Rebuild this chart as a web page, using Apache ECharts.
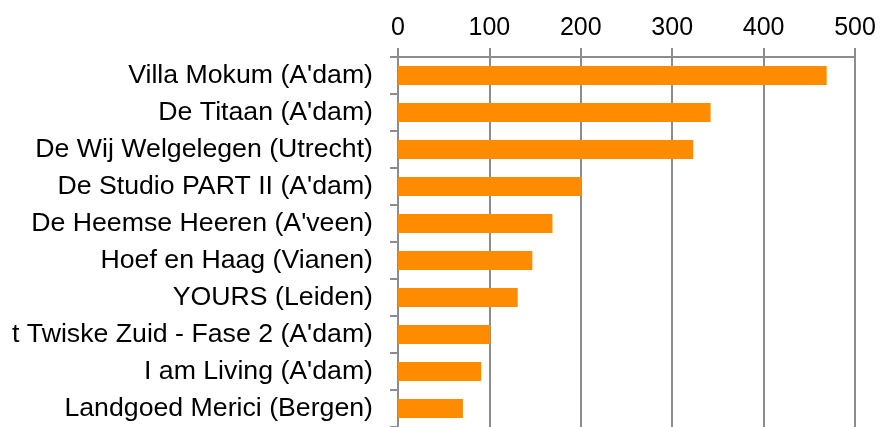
<!DOCTYPE html>
<html>
<head>
<meta charset="utf-8">
<script src="https://cdn.jsdelivr.net/npm/echarts@6/dist/echarts.min.js"></script>
<style>
html,body{margin:0;padding:0;background:#fff;}
#chart{width:881px;height:427px;}
</style>
</head>
<body>
<div id="chart"></div>
<script>
const categories = [
  "Villa Mokum (A'dam)",
  "De Titaan (A'dam)",
  "De Wij Welgelegen (Utrecht)",
  "De Studio PART II (A'dam)",
  "De Heemse Heeren (A'veen)",
  "Hoef en Haag (Vianen)",
  "YOURS (Leiden)",
  "t Twiske Zuid - Fase 2 (A'dam)",
  "I am Living (A'dam)",
  "Landgoed Merici (Bergen)"
];
const values = [469, 342, 323, 201, 169, 147, 131, 101, 91, 71];
const xTicks = [0, 100, 200, 300, 400, 500];

const gray = '#8c8c8c';
const chart = echarts.init(document.getElementById('chart'), null, {renderer: 'canvas'});
chart.setOption({
  animation: false,
  backgroundColor: '#ffffff',
  grid: {left: 398, top: 57, width: 457, height: 377, containLabel: false},
  xAxis: {
    type: 'value',
    position: 'top',
    min: xTicks[0],
    max: xTicks[xTicks.length - 1],
    interval: xTicks[1] - xTicks[0],
    axisLine: {show: true, lineStyle: {color: gray, width: 2}},
    axisTick: {show: true, length: 9, lineStyle: {color: gray, width: 2}},
    splitLine: {show: true, lineStyle: {color: gray, width: 2}},
    axisLabel: {color: '#000', fontFamily: 'Liberation Sans', fontSize: 25, margin: 16}
  },
  yAxis: {
    type: 'category',
    inverse: true,
    data: categories,
    axisLine: {show: true, lineStyle: {color: gray, width: 2}},
    axisTick: {show: true, length: 8, lineStyle: {color: gray, width: 2}},
    splitLine: {show: false},
    axisLabel: {color: '#000', fontFamily: 'Liberation Sans', fontSize: 26.7, margin: 25}
  },
  series: [{
    type: 'bar',
    data: values,
    barWidth: 19,
    itemStyle: {color: '#ff8c00'}
  }]
});
</script>
</body>
</html>
